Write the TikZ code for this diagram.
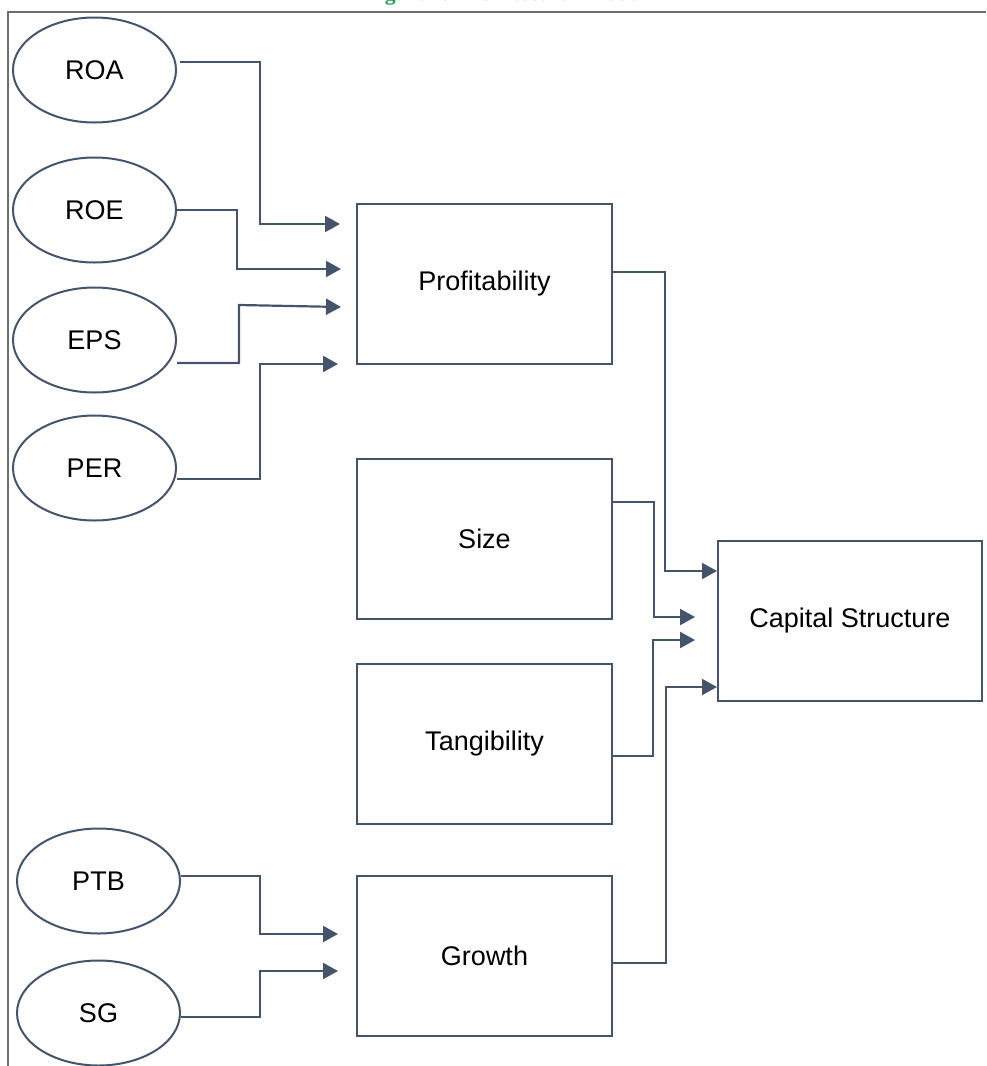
\documentclass[tikz,border=0pt]{standalone}
\usepackage{fontspec}
\setmainfont{Liberation Sans}
\newfontfamily\titlefont{Liberation Serif}
\usetikzlibrary{shapes.geometric,arrows.meta,calc}
\definecolor{linecol}{HTML}{44546A}
\definecolor{framecol}{HTML}{6E6E6E}
\definecolor{titlecol}{HTML}{1E9A4A}
\tikzset{
  varell/.style={ellipse, draw=linecol, line width=2pt, minimum width=163pt, minimum height=105pt, inner sep=0pt, font=\fontsize{27}{30}\selectfont},
  varbox/.style={rectangle, draw=linecol, line width=2pt, minimum width=255pt, minimum height=160pt, inner sep=0pt, font=\fontsize{27}{30}\selectfont},
  conn/.style={draw=linecol, line width=2.2pt, -{Triangle[length=15pt,width=16pt]}},
  framel/.style={draw=framecol, line width=1.3pt}
}
\begin{document}
\begin{tikzpicture}[x=1pt,y=-1pt]
\useasboundingbox (0,0) rectangle (986,1066);
% title (cut off at the top)
\node[anchor=base, text=titlecol, font=\titlefont\bfseries\fontsize{21.5}{24}\selectfont, inner sep=0pt] (title) at (505,0.5) {Figure 1. The Research Model};
% frame
\coordinate (fTL) at (8,12);
\coordinate (fTR) at (986,12);
\coordinate (fBL) at (8,1066);
\draw[framel] (fTR) -- (fTL) -- (fBL);
% ellipses
\node[varell] (roa) at (94.5,70) {ROA};
\node[varell] (roe) at (94.5,210) {ROE};
\node[varell] (eps) at (94.5,340) {EPS};
\node[varell] (per) at (94.5,468) {PER};
\node[varell] (ptb) at (98.5,881) {PTB};
\node[varell] (sg) at (98.5,1013) {SG};
% boxes
\node[varbox] (prof) at (484.5,284) {Profitability};
\node[varbox] (size) at (484.5,539) {Size};
\node[varbox] (tang) at (484.5,744) {Tangibility};
\node[varbox] (grow) at (484.5,956) {Growth};
\node[varbox, minimum width=264pt] (cap) at (850,621) {Capital Structure};
% arrow tips in front of the boxes
\coordinate (p1) at (340,224);
\coordinate (p2) at (341,269);
\coordinate (p3) at (341,307);
\coordinate (p4) at (338,364);
\coordinate (g1) at (338,934);
\coordinate (g2) at (338,971);
\coordinate (c2) at (695,617);
\coordinate (c3) at (695,640);
% connectors into Profitability
\draw[conn] ([xshift=3pt,yshift=8pt]roa.east) -- (260,62) |- (p1);
\draw[conn] (roe.east) -- (237,210) |- (p2);
\draw[conn] ([yshift=-23pt]eps.east) -- (239,363) -- (239,305) -- (p3);
\draw[conn] ([yshift=-11pt]per.east) -- (260,479) |- (p4);
% connectors into Growth
\draw[conn] ([yshift=5pt]ptb.east) -- (260,876) |- (g1);
\draw[conn] ([yshift=-4pt]sg.east) -- (260,1017) |- (g2);
% connectors into Capital Structure
\draw[conn] ([yshift=12pt]prof.east) -- (665,272) |- ([yshift=50pt]cap.west);
\draw[conn] ([yshift=37pt]size.east) -- (654,502) |- (c2);
\draw[conn] ([yshift=-12pt]tang.east) -- (653,756) |- (c3);
\draw[conn] ([yshift=-7pt]grow.east) -- (666,963) |- ([yshift=-66pt]cap.west);
\end{tikzpicture}
\end{document}
